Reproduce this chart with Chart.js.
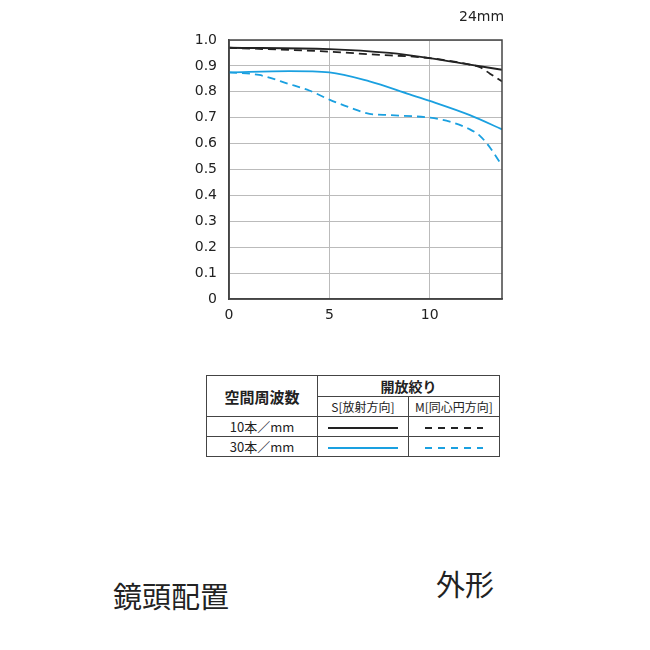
<!DOCTYPE html>
<html>
<head>
<meta charset="utf-8">
<script src="https://cdn.jsdelivr.net/npm/chart.js@4"></script>
<style>
  body { margin: 0; background: #fff; font-family: "Noto Sans CJK JP", "Noto Sans", sans-serif; }
  #wrap { position: relative; width: 650px; height: 650px; }
  canvas { position: absolute; left: 0; top: 0; }
  .lbl { position: absolute; color: #222; }
  table { position: absolute; left: 206px; top: 375px; border-collapse: collapse; font-size: 13px; color: #222; }
  td { border: 1.5px solid #444; text-align: center; padding: 0; height: 19px; }
  .ln { display: inline-block; width: 70px; height: 2px; vertical-align: middle; }
  .dash { width: 58px; }
</style>
</head>
<body>
<div id="wrap">
  <canvas id="c" width="650" height="340"></canvas>
  <div class="lbl" style="left:459px;top:8px;font-size:14px;font-family:'DejaVu Sans'">24mm</div>
  <table>
    <tr><td rowspan="2" style="width:110px;font-size:15px;font-weight:bold">空間周波数</td><td colspan="2" style="font-size:14px;font-weight:bold">開放絞り</td></tr>
    <tr><td style="width:90px;font-size:12px">S[放射方向]</td><td style="width:90px;font-size:12px">M[同心円方向]</td></tr>
    <tr><td>10本／mm</td><td><span class="ln" style="background:#222"></span></td><td><span class="ln dash" style="background:repeating-linear-gradient(90deg,#222 0 7px,transparent 7px 13px)"></span></td></tr>
    <tr><td>30本／mm</td><td><span class="ln" style="background:#1aa0e0"></span></td><td><span class="ln dash" style="background:repeating-linear-gradient(90deg,#1aa0e0 0 7px,transparent 7px 13px)"></span></td></tr>
  </table>
  <div class="lbl" style="left:113px;top:574px;font-size:29px">鏡頭配置</div>
  <div class="lbl" style="left:436px;top:562px;font-size:29px">外形</div>
</div>
<script>
const blackSX = [0, 5, 8, 10, 12, 13.6];
const blackS = [0.97, 0.965, 0.95, 0.93, 0.905, 0.885];
const blackMX = [0, 5, 7, 10, 12, 12.5, 13, 13.6];
const blackM = [0.97, 0.955, 0.945, 0.93, 0.905, 0.895, 0.87, 0.84];
const blueSX = [0, 3, 5, 7, 9, 10, 12, 13.6];
const blueS = [0.875, 0.88, 0.875, 0.84, 0.79, 0.765, 0.71, 0.655];
const blueMX = [0, 1.5, 3, 4, 5, 6, 7, 8, 10, 11, 12, 12.5, 13, 13.6];
const blueM = [0.875, 0.865, 0.83, 0.805, 0.77, 0.74, 0.715, 0.71, 0.70, 0.685, 0.655, 0.63, 0.585, 0.515];
const xTicks = [0, 5, 10];

function pts(xs, ys) { return xs.map((x, i) => ({ x: x, y: ys[i] })); }
function ds(xs, ys, color, dashed) {
  return { data: pts(xs, ys), borderColor: color, borderWidth: 1.8, pointRadius: 0,
           cubicInterpolationMode: 'monotone', borderDash: dashed ? [8, 5] : [] };
}

new Chart(document.getElementById('c'), {
  type: 'line',
  data: { datasets: [
    ds(blackSX, blackS, '#222', false),
    ds(blackMX, blackM, '#222', true),
    ds(blueSX, blueS, '#1aa0e0', false),
    ds(blueMX, blueM, '#1aa0e0', true)
  ]},
  options: {
    responsive: false, animation: false,
    layout: { padding: { left: 190, right: 148, top: 40, bottom: 11 } },
    plugins: { legend: { display: false }, tooltip: { enabled: false } },
    scales: {
      x: {
        type: 'linear', min: 0, max: 13.6,
        afterBuildTicks: s => { s.ticks = xTicks.map(v => ({ value: v })); },
        afterFit: s => { s.height = 30; },
        grid: { color: '#bbb', drawTicks: false },
        border: { color: '#444', width: 1.5 },
        ticks: { color: '#222', padding: 8, font: { size: 14, family: 'DejaVu Sans' } }
      },
      y: {
        min: 0, max: 1,
        afterFit: s => { s.width = 39; },
        grid: { color: '#bbb', drawTicks: false },
        border: { color: '#444', width: 1.5 },
        ticks: { stepSize: 0.1, color: '#222', padding: 12, font: { size: 14, family: 'DejaVu Sans' },
                 callback: v => v === 0 ? '0' : v.toFixed(1) }
      }
    }
  },
  plugins: [{
    id: 'frame',
    afterDraw(ch) {
      const a = ch.chartArea, c = ch.ctx;
      c.save(); c.strokeStyle = '#444'; c.lineWidth = 1.5;
      c.strokeRect(a.left, a.top, a.right - a.left, a.bottom - a.top);
      c.restore();
    }
  }]
});
</script>
</body>
</html>
